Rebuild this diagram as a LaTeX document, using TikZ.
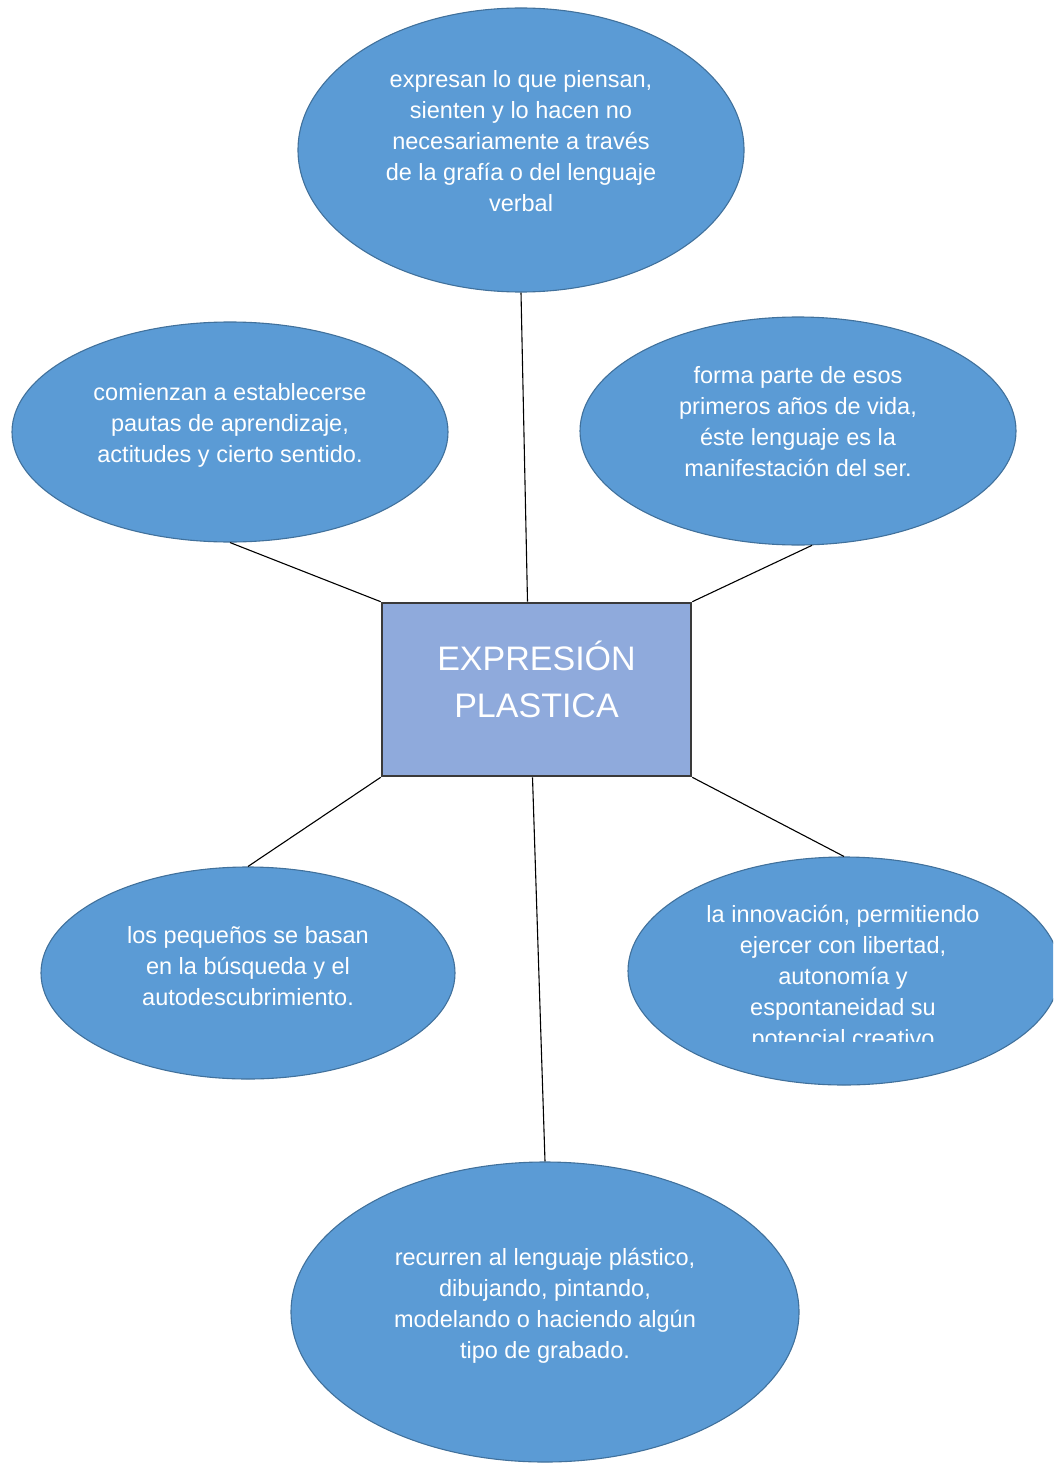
\documentclass[tikz,border=0pt]{standalone}
\usepackage{fontspec}
\setmainfont{Liberation Sans}
\usetikzlibrary{shapes.geometric,calc}
\definecolor{ellfill}{HTML}{5B9BD5}
\definecolor{elldraw}{HTML}{41719C}
\definecolor{boxfill}{HTML}{8FAADC}
\definecolor{boxdraw}{HTML}{3A3A3A}
\begin{document}
\begin{tikzpicture}[x=1pt,y=-1pt,
  ell/.style={ellipse, draw=elldraw, line width=1.1pt, fill=ellfill, inner sep=0pt},
  txt/.style={text=white, align=center, font=\fontsize{23.5}{31}\selectfont, inner sep=0pt},
  bigtxt/.style={text=white, align=center, font=\fontsize{34}{47}\selectfont, inner sep=0pt},
  conn/.style={draw=black, line width=1.1pt}]
\useasboundingbox (0,0) rectangle (1053,1463);
\clip (0,0) rectangle (1053,1463);

% ellipses
\node[ell, minimum width=446pt, minimum height=284pt] (e1) at (521,150) {};
\node[ell, minimum width=436pt, minimum height=220pt] (e2) at (230,432) {};
\node[ell, minimum width=436pt, minimum height=228pt] (e3) at (798,431) {};
\node[ell, minimum width=414pt, minimum height=212pt] (e4) at (248,973) {};
\node[ell, minimum width=432pt, minimum height=228pt] (e5) at (844,971) {};
\node[ell, minimum width=508pt, minimum height=300pt] (e6) at (545,1312) {};

% central box
\node[draw=boxdraw, line width=2.6pt, fill=boxfill, minimum width=309pt, minimum height=173pt, inner sep=0pt] (box) at (536.5,689.5) {};
\node[bigtxt] (bt) at (536.5,679) {EXPRESIÓN\\PLASTICA};

% texts
\node[txt] (t1) at (521,141) {expresan lo que piensan,\\sienten y lo hacen no\\necesariamente a través\\de la grafía o del lenguaje\\verbal};
\node[txt] (t2) at (230,425) {comienzan a establecerse\\pautas de aprendizaje,\\actitudes y cierto sentido.};
\node[txt] (t3) at (798,422) {forma parte de esos\\primeros años de vida,\\éste lenguaje es la\\manifestación del ser.};
\node[txt] (t4) at (248,966) {los pequeños se basan\\en la búsqueda y el\\autodescubrimiento.};
\begin{scope}
  \clip (600,880) rectangle (1053,1041);
  \node[txt] (t5) at (843,978) {la innovación, permitiendo\\ejercer con libertad,\\autonomía y\\espontaneidad su\\potencial creativo};
\end{scope}
\node[txt] (t6) at (545,1306) {recurren al lenguaje plástico,\\dibujando, pintando,\\modelando o haciendo algún\\tipo de grabado.};

% connectors
\draw[conn] (e1.south) -- ($(box.north)+(-9,0)$);
\draw[conn] (e2.south) -- (box.north west);
\draw[conn] (e3.277) -- (box.north east);
\draw[conn] (box.south west) -- (e4.north);
\draw[conn] (box.south east) -- (e5.north);
\draw[conn] ($(box.south)+(-4,0)$) -- (e6.north);
\end{tikzpicture}
\end{document}
